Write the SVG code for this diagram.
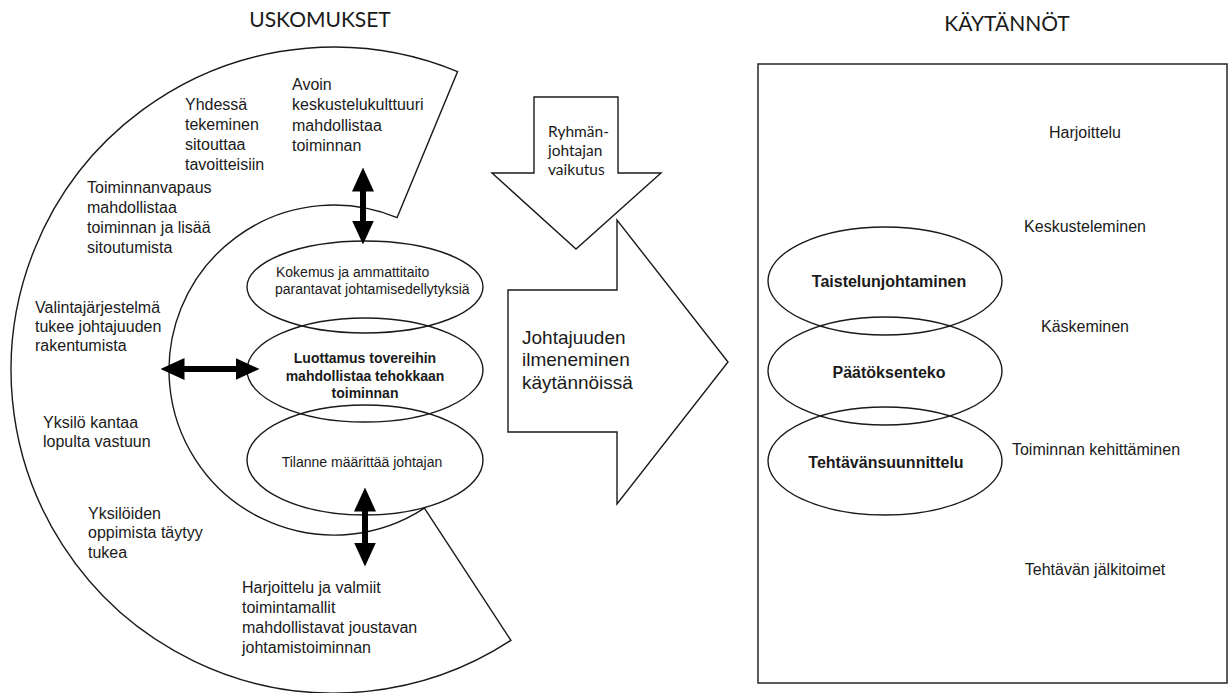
<svg xmlns="http://www.w3.org/2000/svg" width="1232" height="693" viewBox="0 0 1232 693">
  <defs>
    <style>
      .bg { fill: #ffffff; }
      .shape { fill: none; stroke: #1a1a1a; stroke-width: 1.4; }
      .shape-white { fill: #ffffff; stroke: #1a1a1a; stroke-width: 1.4; }
      .frame { fill: none; stroke: #333333; stroke-width: 1.6; }
      .txt { font-family: "Liberation Sans", Arial, sans-serif; font-size: 16px; fill: #1a1a1a; }
      .small { font-family: "Liberation Sans", Arial, sans-serif; font-size: 14px; fill: #1a1a1a; }
      .small-bold { font-family: "Liberation Sans", Arial, sans-serif; font-size: 14px; font-weight: bold; fill: #1a1a1a; }
      .bold { font-family: "Liberation Sans", Arial, sans-serif; font-size: 16px; font-weight: bold; fill: #1a1a1a; }
      .big { font-family: "Liberation Sans", Arial, sans-serif; font-size: 19px; fill: #1a1a1a; }
      .title { font-family: Lato, "Open Sans", sans-serif; font-size: 21px; fill: #1a1a1a; }
      .hint { font-family: Lato, "Open Sans", sans-serif; font-size: 15.5px; fill: #1a1a1a; }
      .conn { stroke: #000000; stroke-width: 6; fill: none; }
      .mid { text-anchor: middle; }
    </style>
    <marker id="head" viewBox="0 0 24 22" markerWidth="24" markerHeight="22" refX="0.5" refY="11" markerUnits="userSpaceOnUse" orient="auto-start-reverse">
      <path d="M0,0 L24,11 L0,22 Z" fill="#000000"/>
    </marker>
  </defs>

  <rect class="bg" x="0" y="0" width="1232" height="693"/>

  <!-- Headings -->
  <g id="title-uskomukset">
    <text class="title mid" x="320" y="27">USKOMUKSET</text>
  </g>
  <g id="title-kaytannot">
    <text class="title mid" x="1007" y="31">KÄYTÄNNÖT</text>
  </g>

  <!-- Block arc of beliefs with its statements -->
  <g id="beliefs-arc">
    <path class="shape" d="M457.6,71.6 A323,323 0 1 0 510.9,640.3 L424.4,508.1 A165,165 0 1 1 397.1,217.6 Z"/>
    <text class="txt" x="292" y="90">Avoin</text>
    <text class="txt" x="292" y="110">keskustelukulttuuri</text>
    <text class="txt" x="292" y="131">mahdollistaa</text>
    <text class="txt" x="292" y="151">toiminnan</text>

    <text class="txt" x="185" y="110">Yhdessä</text>
    <text class="txt" x="185" y="130">tekeminen</text>
    <text class="txt" x="185" y="150">sitouttaa</text>
    <text class="txt" x="185" y="170">tavoitteisiin</text>

    <text class="txt" x="87" y="193">Toiminnanvapaus</text>
    <text class="txt" x="87" y="213">mahdollistaa</text>
    <text class="txt" x="87" y="233">toiminnan ja lisää</text>
    <text class="txt" x="87" y="253">sitoutumista</text>

    <text class="txt" x="35" y="313">Valintajärjestelmä</text>
    <text class="txt" x="35" y="332">tukee johtajuuden</text>
    <text class="txt" x="35" y="351">rakentumista</text>

    <text class="txt" x="43" y="428">Yksilö kantaa</text>
    <text class="txt" x="43" y="447">lopulta vastuun</text>

    <text class="txt" x="88" y="519">Yksilöiden</text>
    <text class="txt" x="88" y="538">oppimista täytyy</text>
    <text class="txt" x="88" y="558">tukea</text>

    <text class="txt" x="242" y="593">Harjoittelu ja valmiit</text>
    <text class="txt" x="242" y="613">toimintamallit</text>
    <text class="txt" x="242" y="633">mahdollistavat joustavan</text>
    <text class="txt" x="242" y="653">johtamistoiminnan</text>
  </g>

  <!-- Core beliefs -->
  <g id="belief-kokemus">
    <ellipse class="shape" cx="365" cy="287" rx="118" ry="46"/>
    <text class="small" x="276" y="277">Kokemus ja ammattitaito</text>
    <text class="small" x="275" y="294">parantavat johtamisedellytyksiä</text>
  </g>
  <g id="belief-luottamus">
    <ellipse class="shape" cx="365" cy="370" rx="118" ry="52"/>
    <text class="small-bold mid" x="365" y="363">Luottamus tovereihin</text>
    <text class="small-bold mid" x="365" y="381">mahdollistaa tehokkaan</text>
    <text class="small-bold mid" x="365" y="398">toiminnan</text>
  </g>
  <g id="belief-tilanne">
    <ellipse class="shape" cx="365" cy="460" rx="118" ry="55"/>
    <text class="small mid" x="362" y="467">Tilanne määrittää johtajan</text>
  </g>

  <!-- Influence of the group leader -->
  <g id="arrow-ryhmanjohtaja">
    <path class="shape-white" d="M534,97 L618,97 L618,173 L661,173 L576,249 L492,173 L534,173 Z"/>
    <text class="hint" x="548" y="137">Ryhmän-</text>
    <text class="hint" x="548" y="156">johtajan</text>
    <text class="hint" x="548" y="175">vaikutus</text>
  </g>

  <!-- Leadership showing in practice -->
  <g id="arrow-ilmeneminen">
    <path class="shape-white" d="M508,290 L617,290 L617,220 L728,362 L617,504 L617,432 L508,432 Z"/>
    <text class="big" x="522" y="344">Johtajuuden</text>
    <text class="big" x="522" y="366">ilmeneminen</text>
    <text class="big" x="522" y="389">käytännöissä</text>
  </g>

  <!-- Practices -->
  <g id="practices-box">
    <rect class="frame" x="758" y="64" width="469" height="619"/>
    <text class="txt mid" x="1085" y="138">Harjoittelu</text>
    <text class="txt mid" x="1085" y="232">Keskusteleminen</text>
    <text class="txt mid" x="1085" y="332">Käskeminen</text>
    <text class="txt mid" x="1096" y="455">Toiminnan kehittäminen</text>
    <text class="txt mid" x="1095" y="575">Tehtävän jälkitoimet</text>
  </g>
  <g id="practice-taistelunjohtaminen">
    <ellipse class="shape" cx="885" cy="281" rx="117" ry="54"/>
    <text class="bold mid" x="889" y="287">Taistelunjohtaminen</text>
  </g>
  <g id="practice-paatoksenteko">
    <ellipse class="shape" cx="885" cy="371" rx="117" ry="54"/>
    <text class="bold mid" x="889" y="378">Päätöksenteko</text>
  </g>
  <g id="practice-suunnittelu">
    <ellipse class="shape" cx="885" cy="461" rx="117" ry="54"/>
    <text class="bold mid" x="886" y="468">Tehtävänsuunnittelu</text>
  </g>

  <!-- Two-way links -->
  <g id="connectors">
    <line class="conn" x1="363" y1="191" x2="363" y2="221" marker-start="url(#head)" marker-end="url(#head)"/>
    <line class="conn" x1="365" y1="511" x2="365" y2="543" marker-start="url(#head)" marker-end="url(#head)"/>
    <line class="conn" x1="184" y1="369" x2="236" y2="369" marker-start="url(#head)" marker-end="url(#head)"/>
  </g>
</svg>
